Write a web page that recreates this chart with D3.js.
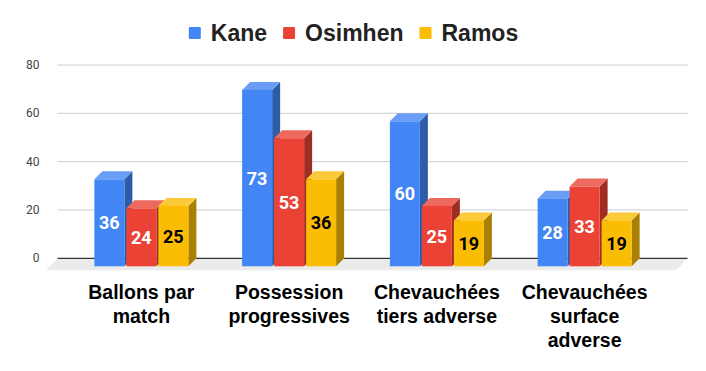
<!DOCTYPE html>
<html><head><meta charset="utf-8">
<script src="https://cdn.jsdelivr.net/npm/d3@7/dist/d3.min.js"></script>
<style>body{margin:0;background:#fff}svg{display:block}</style>
</head><body><svg id="c" width="706" height="371"></svg>
<script>
const categories = ["Ballons par\nmatch", "Possession\nprogressives", "Chevauchées\ntiers adverse", "Chevauchées\nsurface\nadverse"];
const seriesNames = ["Kane", "Osimhen", "Ramos"];
const kane = [36, 73, 60, 28];
const osimhen = [24, 53, 25, 33];
const ramos = [25, 36, 19, 19];
const yTicks = [0, 20, 40, 60, 80];

const seriesValues = [kane, osimhen, ramos];
const frontCol = ["#4285F4", "#EA4335", "#FBBC04"];
const topCol = ["#699DF6", "#EE6A5F", "#FCC938"];
const sideCol = ["#2D5CA9", "#A02D24", "#A98002"];
const labelCol = ["#ffffff", "#ffffff", "#000000"];

const svg = d3.select("#c");
const W = 706;
const dx = 8, dy = 8;
const y = d3.scaleLinear().domain([0, 80]).range([258.3, 65]);
const x = d3.scaleBand().domain(d3.range(categories.length)).range([67.5, 658.5]).paddingInner(0.3638).paddingOuter(0.1819);
const xs = d3.scaleBand().domain(d3.range(seriesNames.length)).range([0, x.bandwidth()]).paddingInner(0.0625);

// gridlines
svg.append("g").selectAll("line").data(yTicks.filter(d => d > 0)).join("line")
  .attr("x1", 57.5).attr("x2", 687.5).attr("y1", d => y(d)).attr("y2", d => y(d))
  .attr("stroke", "#cccccc").attr("stroke-width", 1);

// y tick labels
svg.append("g").selectAll("text").data(yTicks).join("text")
  .attr("x", 39.5).attr("y", d => y(d)).attr("text-anchor", "end").attr("dominant-baseline", "central")
  .attr("font-family", "Roboto, 'Liberation Sans', Arial, sans-serif").attr("font-size", 12).attr("fill", "#444")
  .text(d => d);

// floor
const b0 = y(0);
svg.append("path")
  .attr("d", `M57.5,${b0}L687.5,${b0}L676,${b0 + 12}L46,${b0 + 12}Z`)
  .attr("fill", "#ebebeb");
svg.append("line").attr("x1", 57.5).attr("x2", 687.5).attr("y1", b0).attr("y2", b0)
  .attr("stroke", "#333").attr("stroke-width", 1.2);

// bars
const gBars = svg.append("g");
categories.forEach((c, ci) => {
  seriesNames.forEach((s, si) => {
    const v = seriesValues[si][ci];
    const x0 = x(ci) + xs(si), w = xs.bandwidth();
    const yt = y(v) + dy, yb = y(0) + dy;
    const g = gBars.append("g");
    g.append("path").attr("d", `M${x0 + w},${yt}L${x0 + w + dx},${yt - dy}L${x0 + w + dx},${yb - dy}L${x0 + w},${yb}Z`).attr("fill", sideCol[si]);
    g.append("path").attr("d", `M${x0},${yt}L${x0 + dx},${yt - dy}L${x0 + w + dx},${yt - dy}L${x0 + w},${yt}Z`).attr("fill", topCol[si]);
    g.append("rect").attr("x", x0).attr("y", yt).attr("width", w).attr("height", yb - yt).attr("fill", frontCol[si]);
    g.append("text").attr("x", x0 + w / 2).attr("y", (yt + yb) / 2).attr("text-anchor", "middle").attr("dominant-baseline", "central")
      .attr("font-family", "Roboto, 'Liberation Sans', Arial, sans-serif").attr("font-weight", "bold").attr("font-size", 18)
      .attr("fill", labelCol[si]).text(v);
  });
});

// category labels
const gCat = svg.append("g");
categories.forEach((c, ci) => {
  const t = gCat.append("text").attr("text-anchor", "middle")
    .attr("font-family", "'Liberation Sans', Arial, sans-serif").attr("font-weight", "bold").attr("font-size", 19.5).attr("fill", "#000");
  c.split("\n").forEach((ln, li) => {
    t.append("tspan").attr("x", x(ci) + x.bandwidth() / 2).attr("y", 299 + li * 24).text(ln);
  });
});

// legend
const lg = svg.append("g");
let cx = 0;
seriesNames.forEach((s, i) => {
  const it = lg.append("g");
  it.append("rect").attr("x", cx).attr("y", 27).attr("width", 12).attr("height", 12).attr("rx", 1).attr("fill", frontCol[i]);
  const t = it.append("text").attr("x", cx + 22).attr("y", 41)
    .attr("font-family", "'Liberation Sans', Arial, sans-serif").attr("font-weight", "bold").attr("font-size", 23).attr("fill", "#222").text(s);
  const tw = t.node().getComputedTextLength();
  cx += 22 + tw + 16;
});
const totalW = cx - 16;
lg.attr("transform", `translate(${(W - totalW) / 2 + 0.5},0)`);
</script>
</body></html>
